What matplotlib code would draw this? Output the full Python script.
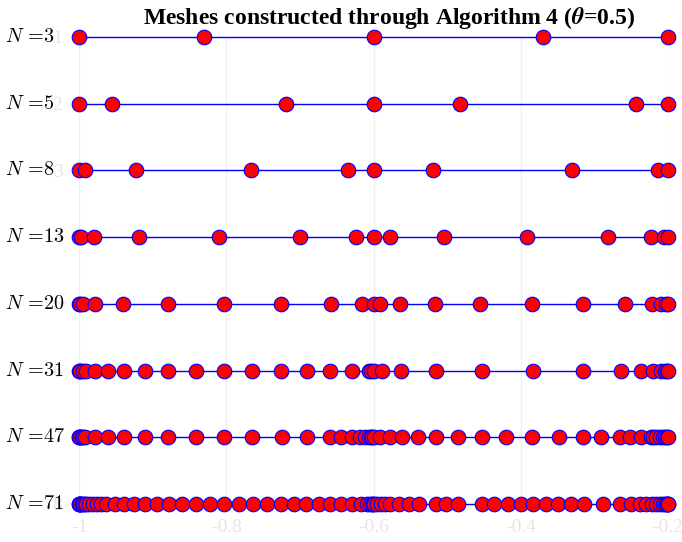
import matplotlib
matplotlib.use("Agg")
import matplotlib.pyplot as plt

# mesh sizes and the node positions
sizes = [3, 5, 8, 13, 20, 31, 47, 71]

mesh_n3 = [-1.0, -0.83, -0.6, -0.37, -0.2]
mesh_n5 = [-1.0, -0.955, -0.719, -0.6, -0.482, -0.243, -0.2]
mesh_n8 = [-1.0, -0.992, -0.922, -0.767, -0.635, -0.6, -0.519, -0.331, -0.214, -0.2]
mesh_n13 = [-1.0, -0.9976, -0.980, -0.918, -0.810, -0.700, -0.624, -0.6, -0.577,
            -0.504, -0.391, -0.282, -0.223, -0.206, -0.2]
mesh_n20 = [-1.0, -0.998, -0.995, -0.978, -0.940, -0.879, -0.803, -0.725, -0.658,
            -0.616, -0.6, -0.591, -0.564, -0.516, -0.455, -0.385, -0.316, -0.259,
            -0.222, -0.209, -0.203, -0.2]
mesh_n31 = [-1.0, -0.999, -0.998, -0.995, -0.991, -0.978, -0.960, -0.939, -0.910,
            -0.879, -0.841, -0.803, -0.765, -0.725, -0.690, -0.659, -0.629, -0.606,
            -0.603, -0.6, -0.589, -0.562, -0.515, -0.453, -0.383, -0.315, -0.264,
            -0.236, -0.220, -0.209, -0.204, -0.201, -0.2]
mesh_n47 = [-1.0, -0.9996, -0.9989, -0.998, -0.9966, -0.9948, -0.9912, -0.9783,
            -0.9604, -0.9387, -0.9098, -0.8785, -0.8405, -0.8025, -0.7646, -0.7245,
            -0.6903, -0.6587, -0.6442, -0.6293, -0.6180, -0.6112, -0.6067, -0.6031,
            -0.6017, -0.6, -0.5909, -0.5773, -0.5617, -0.5393, -0.5155, -0.4850,
            -0.4531, -0.4199, -0.3846, -0.3486, -0.3154, -0.2905, -0.2658, -0.2516,
            -0.2367, -0.2231, -0.2200, -0.2164, -0.2109, -0.2064, -0.2041, -0.2018,
            -0.2]
mesh_n71 = [-1.0, -0.9997, -0.9993, -0.9986, -0.998, -0.9966, -0.9948, -0.9925,
            -0.9905, -0.9867, -0.9813, -0.9753, -0.9695, -0.9627, -0.9514, -0.9392,
            -0.9256, -0.9098, -0.8939, -0.8781, -0.8600, -0.8405, -0.8216, -0.8025,
            -0.7831, -0.7636, -0.7446, -0.7252, -0.7076, -0.6913, -0.6743, -0.6587,
            -0.6442, -0.6293, -0.6173, -0.6089, -0.6044, -0.6024, -0.6010, -0.6,
            -0.5953, -0.5895, -0.5841, -0.5773, -0.5647, -0.5522, -0.5386, -0.5153,
            -0.5013, -0.4850, -0.4528, -0.4358, -0.4176, -0.4000, -0.3828, -0.3656,
            -0.3489, -0.3317, -0.3140, -0.2887, -0.2652, -0.2502, -0.2380, -0.2299,
            -0.2222, -0.2163, -0.2109, -0.2064, -0.2041, -0.2018, -0.2009, -0.2005,
            -0.2]

meshes = [mesh_n3, mesh_n5, mesh_n8, mesh_n13, mesh_n20, mesh_n31, mesh_n47, mesh_n71]

xticks = [-1, -0.8, -0.6, -0.4, -0.2]
xtick_labels = ["-1", "-0.8", "-0.6", "-0.4", "-0.2"]
yticks = [1, 2, 3, 4, 5, 6, 7, 8]

plt.rcParams["mathtext.fontset"] = "stix"

fig = plt.figure(figsize=(6.82, 5.42), dpi=100)
ax = fig.add_axes([79 / 682, 30 / 542, 589 / 682, 475 / 542])

for row, (n, xs) in enumerate(zip(sizes, meshes), start=1):
    ax.plot(xs, [row] * len(xs), "-", color="blue", lw=1, marker="o", ms=10.5,
            mfc="red", mec="blue", mew=0.8, clip_on=False, zorder=3)
    ax.text(-74 / 589, row, r"$N$ =" + str(n),
            transform=ax.get_yaxis_transform(), ha="left", va="center",
            fontsize=14.5, family="cmr10", math_fontfamily="cm", zorder=4)

ax.set_xlim(-1, -0.2)
ax.set_ylim(8.12, 1)
ax.set_xticks(xticks, xtick_labels)
ax.set_yticks(yticks)
ax.tick_params(length=0, labelsize=14, labelcolor="#e6e6e6")
ax.tick_params(axis="y", pad=12)
ax.tick_params(axis="x", pad=5)
for lab in ax.get_xticklabels() + ax.get_yticklabels():
    lab.set_family("Liberation Serif")
for sp in ax.spines.values():
    sp.set_visible(False)
ax.grid(axis="x", color="#f0f0f0", lw=1)
ax.set_axisbelow(True)

fig.text(389 / 682, 1 - 18 / 542,
         r"Meshes constructed through Algorithm 4 ($\mathbfit{\theta}$=0.5)",
         ha="center", va="center", fontsize=17, fontweight="bold",
         family="Liberation Serif")

fig.savefig("out.png", dpi=100)
